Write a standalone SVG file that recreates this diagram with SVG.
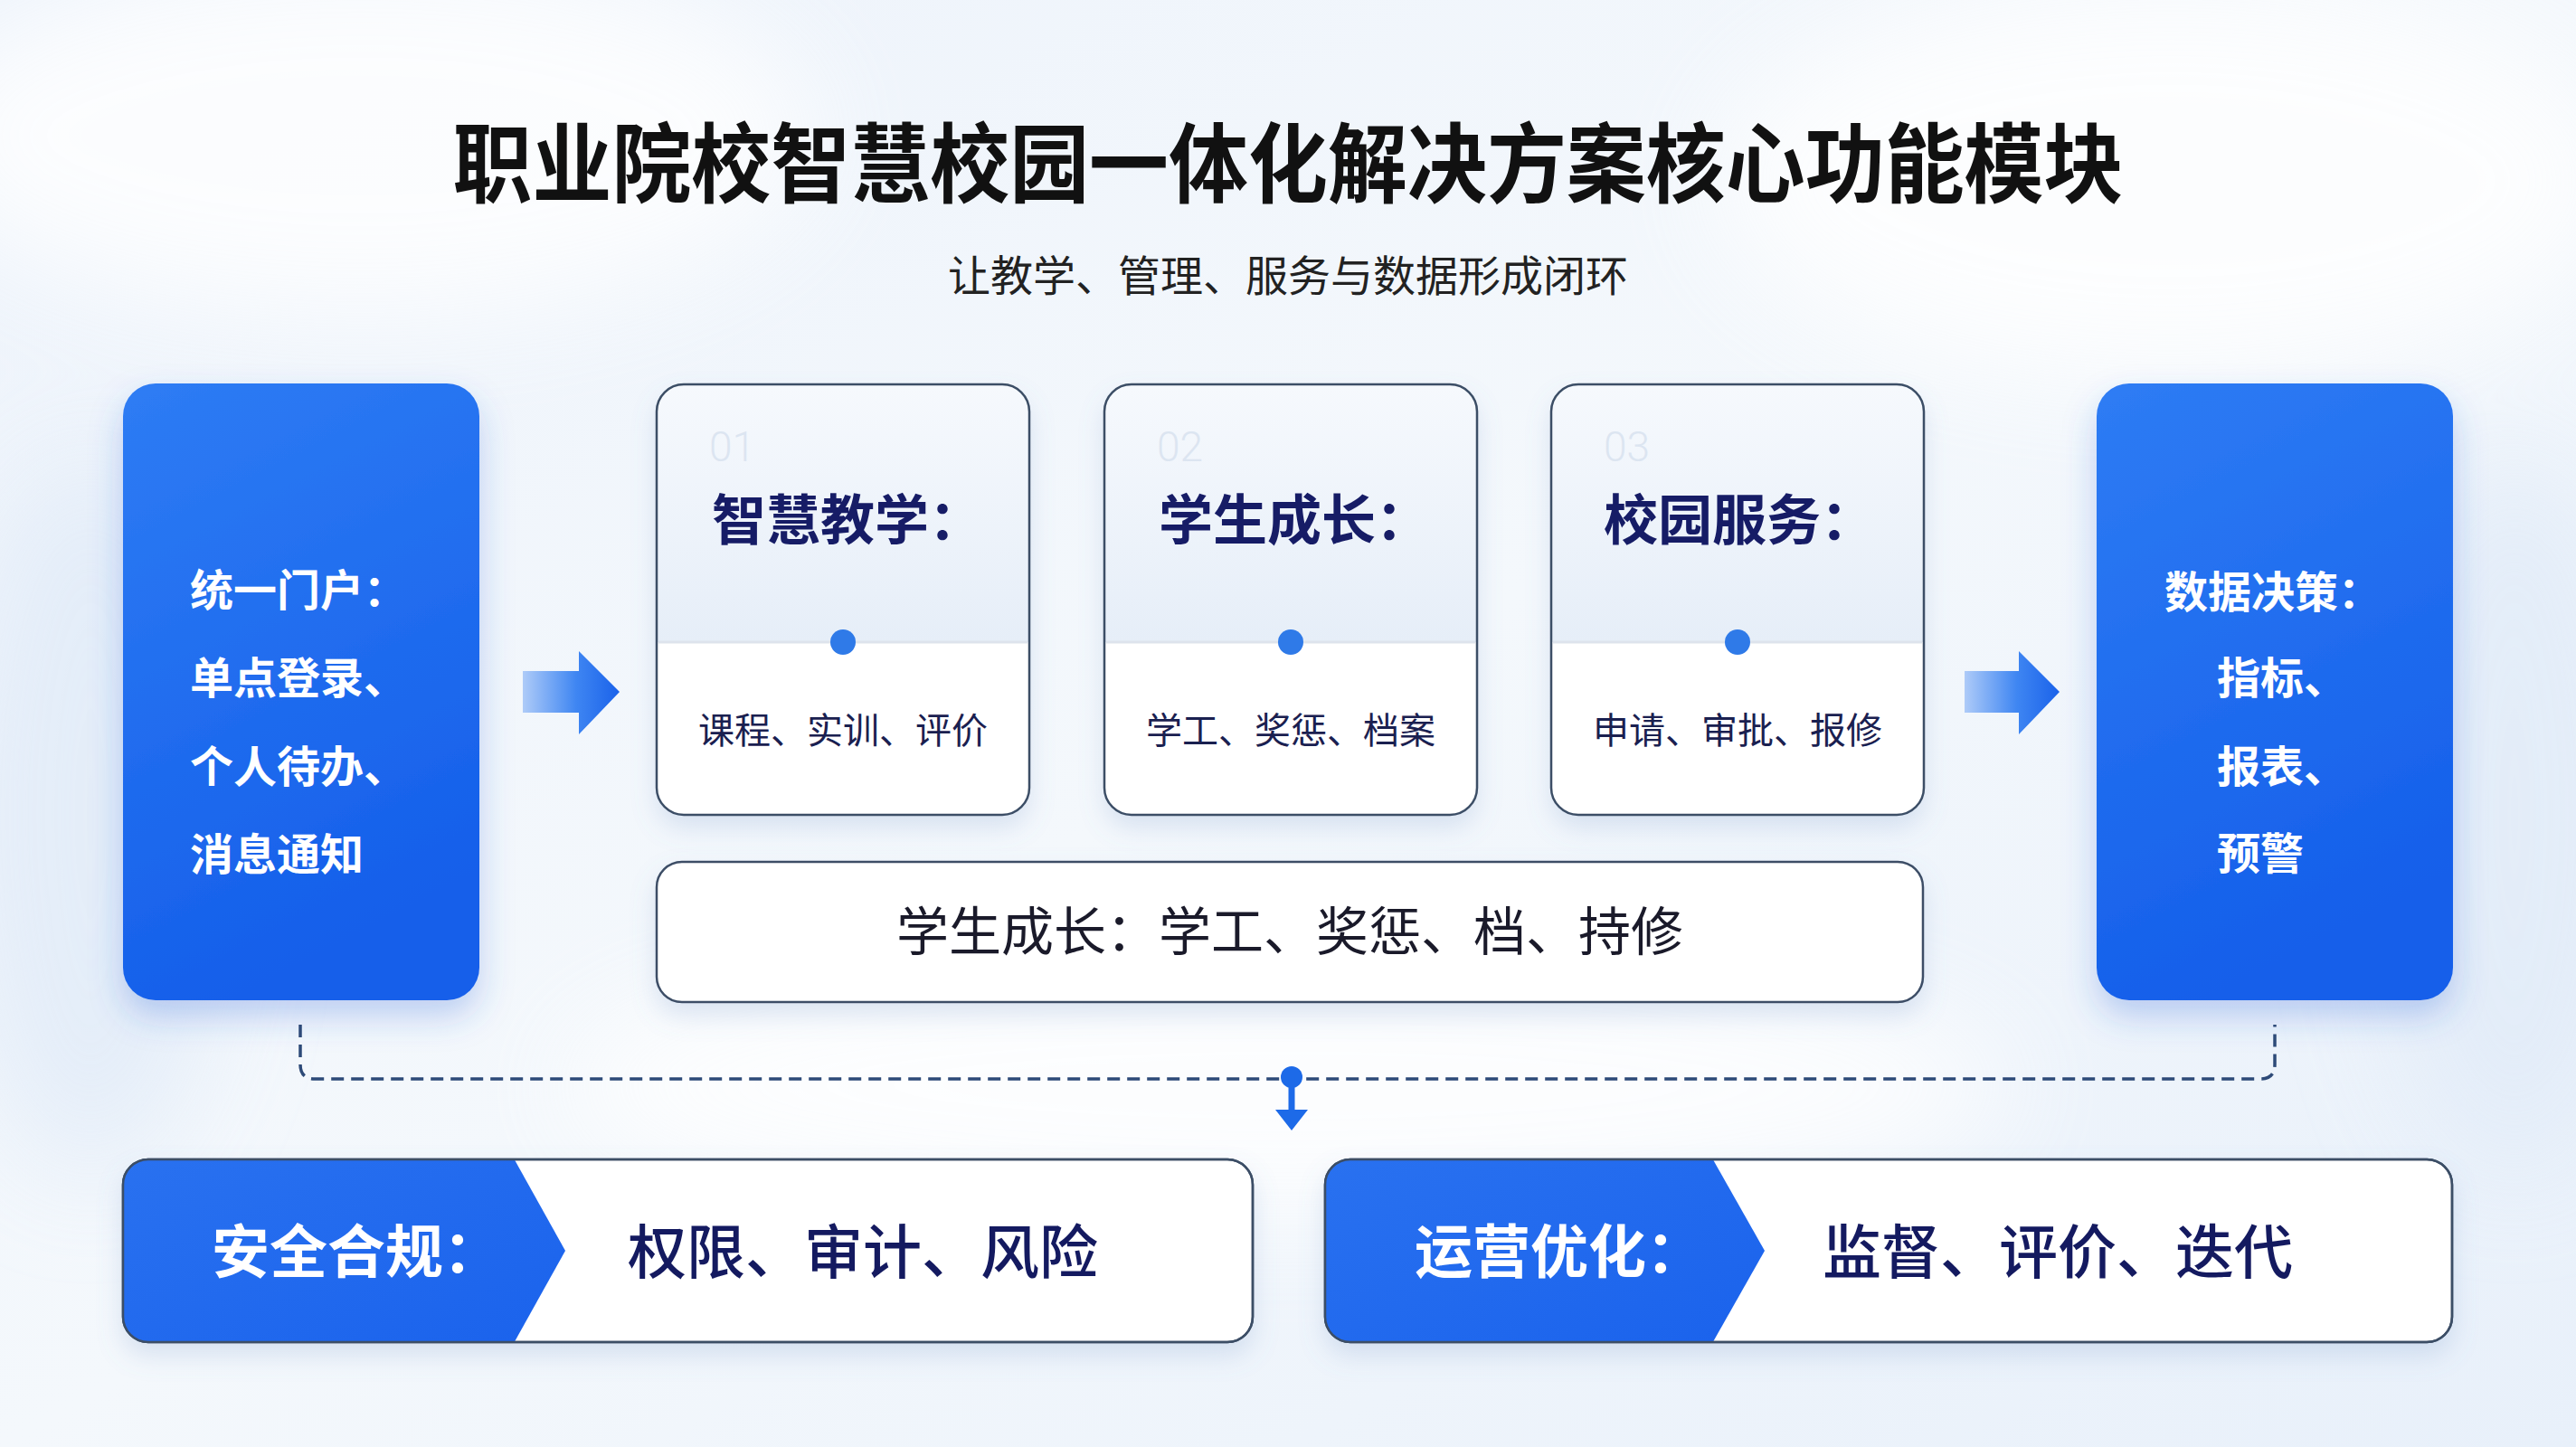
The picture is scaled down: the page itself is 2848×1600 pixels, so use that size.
<svg xmlns="http://www.w3.org/2000/svg" width="2848" height="1600" viewBox="0 0 2848 1600">
<defs>
<linearGradient id="bg" x1="0" y1="0" x2="1" y2="1">
<stop offset="0" stop-color="#edf3fb"/><stop offset="0.5" stop-color="#f4f8fc"/><stop offset="1" stop-color="#e8f0fa"/>
</linearGradient>
<linearGradient id="blue" x1="0" y1="0" x2="0.3" y2="1">
<stop offset="0" stop-color="#2e7cf4"/><stop offset="1" stop-color="#155fea"/>
</linearGradient>
<linearGradient id="blueH" x1="0" y1="0" x2="1" y2="1">
<stop offset="0" stop-color="#2a72f0"/><stop offset="1" stop-color="#1a62ec"/>
</linearGradient>
<linearGradient id="cardTop" x1="0" y1="0" x2="0" y2="1">
<stop offset="0" stop-color="#f6f9fd"/><stop offset="1" stop-color="#e6eef8"/>
</linearGradient>
<linearGradient id="arrowG" x1="0" y1="0" x2="1" y2="0">
<stop offset="0" stop-color="#aecbf8"/><stop offset="0.55" stop-color="#3f86f2"/><stop offset="1" stop-color="#1a62ea"/>
</linearGradient>
<filter id="shBlue" x="-20%" y="-20%" width="140%" height="150%">
<feDropShadow dx="0" dy="18" stdDeviation="18" flood-color="#2a64d8" flood-opacity="0.28"/>
</filter>
<filter id="shCard" x="-20%" y="-20%" width="140%" height="150%">
<feDropShadow dx="0" dy="14" stdDeviation="14" flood-color="#6f93c8" flood-opacity="0.22"/>
</filter>
<filter id="soft"><feGaussianBlur stdDeviation="60"/></filter>
<clipPath id="clipL"><rect x="136" y="1282" width="1249" height="202" rx="28"/></clipPath>
<clipPath id="clipR"><rect x="1465" y="1282" width="1246" height="202" rx="28"/></clipPath>
<clipPath id="c1"><rect x="726" y="425" width="412" height="476" rx="30"/></clipPath>
<clipPath id="c2"><rect x="1221" y="425" width="412" height="476" rx="30"/></clipPath>
<clipPath id="c3"><rect x="1715" y="425" width="412" height="476" rx="30"/></clipPath>
</defs>
<style>
text{font-family:"Noto Sans CJK SC","Noto Sans",sans-serif}
.title{font-size:96px;font-weight:700;fill:#111}
.sub{font-size:47px;font-weight:400;fill:#222}
.wt{font-size:48px;font-weight:700;fill:#fff}
.num{font-family:Roboto,"Liberation Sans",sans-serif;font-size:46px;font-weight:300;fill:#dce5f1}
.ct{font-size:60px;font-weight:700;fill:#161c66}
.cb{font-size:40px;font-weight:400;fill:#1a2050}
.wide{font-size:58px;font-weight:400;fill:#1a1a2a}
.bt{font-size:64px;font-weight:700;fill:#fff}
.bd{font-size:65px;font-weight:500;fill:#141a60}
.border{fill:#fff;stroke:#3c4e66;stroke-width:2.5}
.cardb{fill:none;stroke:#3c4e66;stroke-width:2.5}
.div{stroke:#dde3ec;stroke-width:3}
.dot{fill:#2f7ae8}
</style>
<rect width="2848" height="1600" fill="url(#bg)"/>
<g filter="url(#soft)" opacity="0.8">
<ellipse cx="400" cy="150" rx="500" ry="200" fill="#ffffff"/>
<ellipse cx="2400" cy="200" rx="500" ry="220" fill="#ffffff"/>
<ellipse cx="1424" cy="1200" rx="800" ry="150" fill="#ffffff"/>
<ellipse cx="100" cy="900" rx="150" ry="400" fill="#e1ebf8"/>
<ellipse cx="2780" cy="900" rx="150" ry="400" fill="#e1ebf8"/>
</g>

<g id="title">
<text class="title" x="1424" y="216" text-anchor="middle" textLength="1847" lengthAdjust="spacingAndGlyphs">职业院校智慧校园一体化解决方案核心功能模块</text>
<text class="sub" x="1424" y="322" text-anchor="middle">让教学、管理、服务与数据形成闭环</text>
</g>

<g id="portal">
<rect x="136" y="424" width="394" height="682" rx="36" fill="url(#blue)" filter="url(#shBlue)"/>
<text class="wt" x="210" y="670">统一门户：</text>
<text class="wt" x="210" y="767">单点登录、</text>
<text class="wt" x="210" y="865">个人待办、</text>
<text class="wt" x="210" y="962">消息通知</text>
</g>

<g id="card1">
<rect x="726" y="425" width="412" height="476" rx="30" fill="#fff" filter="url(#shCard)"/>
<rect x="726" y="425" width="412" height="285" fill="url(#cardTop)" clip-path="url(#c1)"/>
<line class="div" x1="728" y1="710" x2="1136" y2="710"/>
<rect class="cardb" x="726" y="425" width="412" height="476" rx="30"/>
<text class="num" x="784" y="510">01</text>
<text class="ct" x="787" y="597">智慧教学：</text>
<circle class="dot" cx="932" cy="710" r="14"/>
<text class="cb" x="932" y="822" text-anchor="middle">课程、实训、评价</text>
</g>

<g id="card2">
<rect x="1221" y="425" width="412" height="476" rx="30" fill="#fff" filter="url(#shCard)"/>
<rect x="1221" y="425" width="412" height="285" fill="url(#cardTop)" clip-path="url(#c2)"/>
<line class="div" x1="1223" y1="710" x2="1631" y2="710"/>
<rect class="cardb" x="1221" y="425" width="412" height="476" rx="30"/>
<text class="num" x="1279" y="510">02</text>
<text class="ct" x="1281" y="597">学生成长：</text>
<circle class="dot" cx="1427" cy="710" r="14"/>
<text class="cb" x="1427" y="822" text-anchor="middle">学工、奖惩、档案</text>
</g>

<g id="card3">
<rect x="1715" y="425" width="412" height="476" rx="30" fill="#fff" filter="url(#shCard)"/>
<rect x="1715" y="425" width="412" height="285" fill="url(#cardTop)" clip-path="url(#c3)"/>
<line class="div" x1="1717" y1="710" x2="2125" y2="710"/>
<rect class="cardb" x="1715" y="425" width="412" height="476" rx="30"/>
<text class="num" x="1773" y="510">03</text>
<text class="ct" x="1773" y="597">校园服务：</text>
<circle class="dot" cx="1921" cy="710" r="14"/>
<text class="cb" x="1921" y="822" text-anchor="middle">申请、审批、报修</text>
</g>

<g id="wide">
<rect class="border" x="726" y="953" width="1400" height="155" rx="28" filter="url(#shCard)"/>
<text class="wide" x="1426" y="1051" text-anchor="middle">学生成长：学工、奖惩、档、持修</text>
</g>

<g id="data">
<rect x="2318" y="424" width="394" height="682" rx="36" fill="url(#blue)" filter="url(#shBlue)"/>
<text class="wt" x="2393" y="672">数据决策：</text>
<text class="wt" x="2451" y="767">指标、</text>
<text class="wt" x="2451" y="865">报表、</text>
<text class="wt" x="2451" y="961">预警</text>
</g>

<g id="security">
<rect class="border" x="136" y="1282" width="1249" height="202" rx="28" filter="url(#shCard)"/>
<polygon points="100,1270 562,1270 625,1383 562,1496 100,1496" fill="url(#blueH)" clip-path="url(#clipL)"/>
<rect x="136" y="1282" width="1249" height="202" rx="28" fill="none" stroke="#3c4e66" stroke-width="2.5"/>
<text class="bt" x="234" y="1407">安全合规：</text>
<text class="bd" x="694" y="1408">权限、审计、风险</text>
</g>

<g id="operation">
<rect class="border" x="1465" y="1282" width="1246" height="202" rx="28" filter="url(#shCard)"/>
<polygon points="1430,1270 1887,1270 1951,1383 1887,1496 1430,1496" fill="url(#blueH)" clip-path="url(#clipR)"/>
<rect x="1465" y="1282" width="1246" height="202" rx="28" fill="none" stroke="#3c4e66" stroke-width="2.5"/>
<text class="bt" x="1564" y="1407">运营优化：</text>
<text class="bd" x="2015" y="1408">监督、评价、迭代</text>
</g>

<g id="connectors">
<path d="M578,742 H640 V720 L685,765 L640,812 V788 H578 Z" fill="url(#arrowG)"/>
<path d="M2172,742 H2232 V720 L2277,765 L2232,812 V788 H2172 Z" fill="url(#arrowG)"/>
<path d="M332,1133 V1177 Q332,1193 348,1193 H2499 Q2515,1193 2515,1177 V1133" fill="none" stroke="#2d4a78" stroke-width="3.5" stroke-dasharray="14 8"/>
<circle cx="1428" cy="1191" r="12" fill="#1d6ae8"/>
<line x1="1428" y1="1191" x2="1428" y2="1230" stroke="#1d6ae8" stroke-width="7"/>
<polygon points="1410,1227 1446,1227 1428,1250" fill="#1d6ae8"/>
</g>
</svg>
